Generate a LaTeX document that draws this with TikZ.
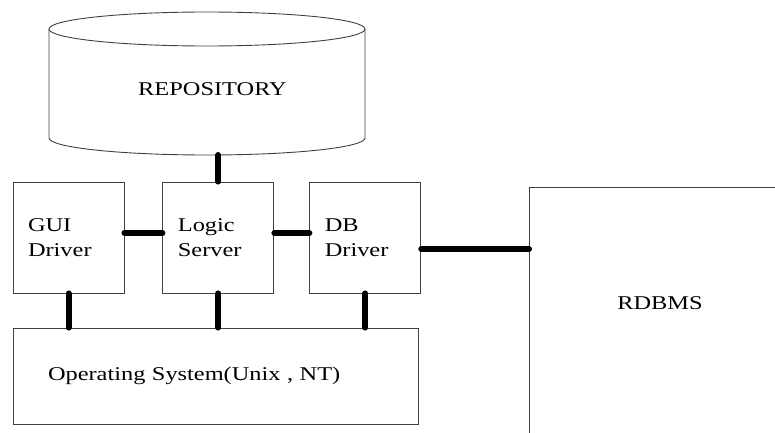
\documentclass[tikz,border=0pt]{standalone}
\usepackage{fontspec}
\setmainfont{Liberation Serif}[FakeStretch=1.25]
\usetikzlibrary{positioning}
\tikzset{
  edge/.style={draw=black!75,line width=0.9pt},
  unit/.style={edge,minimum width=111pt,minimum height=111pt,inner sep=0pt,
    text width=81pt,align=left},
  link/.style={line width=6pt,line cap=round},
}

\begin{document}
\begin{tikzpicture}[x=1pt,y=1pt,font=\fontsize{19.5}{25}\selectfont]
\useasboundingbox (0,0) rectangle (775,432);
\clip (0,0) rectangle (775,432);
% repository drum
\draw[edge] (49,403) -- (49,294)
  arc[start angle=180,end angle=360,x radius=158,y radius=17] -- (365,403);
\draw[edge] (207,403) ellipse[x radius=158,y radius=17];
\node (repo) at (212.5,343) {REPOSITORY};
\coordinate (repo bottom) at (217,277);

% the three modules
\node[unit] (gui) at (68.5,194.5) {GUI\\Driver};
\node[unit,right=38pt of gui] (logic) {Logic\\Server};
\node[unit,right=35pt of logic] (db) {DB\\Driver};

% operating system and database
\node[unit,minimum width=405pt,minimum height=96pt,text width=335pt] (os) at (215.5,56)
  {Operating System(Unix , NT)};
\node[edge,minimum width=300pt,minimum height=300pt,anchor=north west] (rdbms) at (529,245) {};
\node (rdbms label) at (660,128.5) {RDBMS};

% links
\draw[link] (logic.north |- repo bottom) -- (logic.north);
\draw[link] ([yshift=4.5pt]gui.east) -- ([yshift=4.5pt]logic.west);
\draw[link] ([yshift=4.5pt]logic.east) -- ([yshift=4.5pt]db.west);
\draw[link] ([yshift=-11.5pt]db.east) -- ([yshift=-11.5pt]db.east -| rdbms.west);
\foreach \m in {gui,logic,db}
  \draw[link] (\m.south) -- (\m.south |- os.north);
\end{tikzpicture}
\end{document}
